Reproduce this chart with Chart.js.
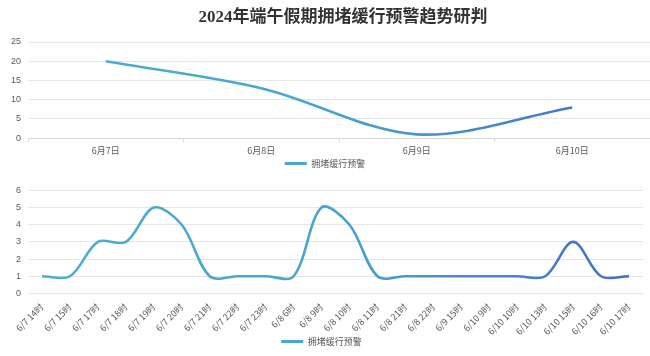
<!DOCTYPE html>
<html><head><meta charset="utf-8">
<script src="https://cdn.jsdelivr.net/npm/chart.js@4.4.1/dist/chart.umd.min.js"></script>
<style>
html,body{margin:0;padding:0;background:#fff;}
#w1{position:absolute;left:0;top:0;width:650px;height:178px;}
#w2{position:absolute;left:0;top:178px;width:650px;height:178px;}
</style></head><body>
<div id="w1"><canvas id="c1"></canvas></div>
<div id="w2"><canvas id="c2"></canvas></div>
<script>
const titleText = '2024年端午假期拥堵缓行预警趋势研判';
const seriesName = '拥堵缓行预警';
const dayLabels = ['6月7日', '6月8日', '6月9日', '6月10日'];
const dayValues = [20, 13, 1, 8];
const hourLabels = ['6/7 14时','6/7 15时','6/7 17时','6/7 18时','6/7 19时','6/7 20时','6/7 21时','6/7 22时','6/7 23时','6/8 6时','6/8 9时','6/8 10时','6/8 11时','6/8 21时','6/8 22时','6/9 15时','6/10 9时','6/10 10时','6/10 13时','6/10 15时','6/10 16时','6/10 17时'];
const hourValues = [1,1,3,3,5,4,1,1,1,1,5,4,1,1,1,1,1,1,1,3,1,1];
const dayTicks = [0,5,10,15,20,25];

const CJK = "'Noto Sans CJK SC', sans-serif";
function grad(ctx){
  const ch = ctx.chart; const a = ch.chartArea;
  if(!a) return '#4bacc6';
  const g = ch.ctx.createLinearGradient(a.left,0,a.right,0);
  g.addColorStop(0,'#4bb0cf');
  g.addColorStop(0.5,'#4aa3d0');
  g.addColorStop(1,'#3f6cc8');
  return g;
}
function legendCfg(lh){
  return {
    position:'bottom',
    labels:{
      font:{family:CJK,size:9,lineHeight:lh}, color:'#595959', boxWidth:22, boxHeight:3, padding:0,
      generateLabels(chart){
        return [{text:seriesName, fillStyle:'#4aa6d0', strokeStyle:'#4aa6d0', lineWidth:0, datasetIndex:0, fontColor:'#595959'}];
      }
    }
  };
}
const titlePlugin = {
  id:'customTitle',
  afterDraw(chart){
    const c = chart.ctx; c.save();
    c.font = "bold 17px 'Liberation Serif', 'Noto Sans CJK SC', serif";
    c.fillStyle = '#333333'; c.textAlign = 'center'; c.textBaseline = 'middle';
    c.fillText(titleText, (chart.chartArea.left + chart.chartArea.right)/2 + 4, 18);
    c.restore();
  }
};

new Chart(document.getElementById('c1'), {
  type:'line',
  data:{labels:dayLabels, datasets:[{label:seriesName, data:dayValues, borderColor:grad, borderWidth:2.6, pointRadius:0, tension:0.33, fill:false}]},
  options:{
    responsive:true, maintainAspectRatio:false, animation:false,
    layout:{padding:{left:0,right:0,top:42,bottom:0}},
    plugins:{
      legend:legendCfg(1),
      tooltip:{enabled:false}
    },
    scales:{
      x:{offset:true, grid:{offset:true, drawOnChartArea:false, drawTicks:true, tickLength:4, color:'#d9d9d9'}, border:{color:'#d9d9d9'},
         ticks:{font:{family:CJK,size:9}, color:'#595959', padding:3, maxRotation:0}},
      y:{min:0,max:25, afterBuildTicks(s){s.ticks = dayTicks.map(v=>({value:v}));}, grid:{color:'#e6e6e6', drawTicks:false}, border:{display:false},
         ticks:{font:{family:'Liberation Sans',size:9}, color:'#595959', padding:7},
         afterFit(s){s.width=28;}}
    }
  },
  plugins:[titlePlugin]
});

new Chart(document.getElementById('c2'), {
  type:'line',
  data:{labels:hourLabels, datasets:[{label:seriesName, data:hourValues, borderColor:grad, borderWidth:2.6, pointRadius:0, tension:0.33, fill:false}]},
  options:{
    responsive:true, maintainAspectRatio:false, animation:false,
    layout:{padding:{left:0,right:7,top:10,bottom:0}},
    plugins:{legend:legendCfg(0.8), tooltip:{enabled:false}},
    scales:{
      x:{offset:true, grid:{display:false}, border:{display:false},
         ticks:{font:{family:CJK,size:9}, color:'#595959', padding:0, minRotation:45, maxRotation:45, autoSkip:false}},
      y:{min:0,max:6, grid:{color:'#e6e6e6', drawTicks:false}, border:{display:false},
         ticks:{stepSize:1, font:{family:'Liberation Sans',size:9}, color:'#595959', padding:7},
         afterFit(s){s.width=28;}}
    }
  }
});
</script>
</body></html>
